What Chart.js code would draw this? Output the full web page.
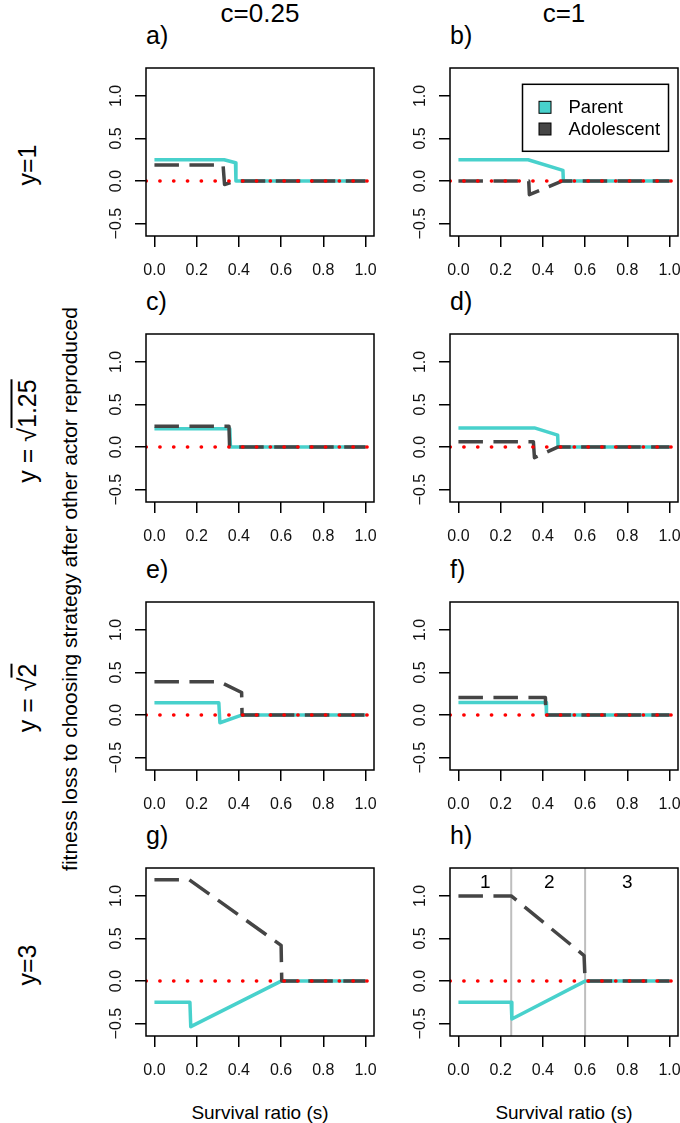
<!DOCTYPE html>
<html>
<head>
<meta charset="utf-8">
<script src="https://cdn.jsdelivr.net/npm/chart.js@4.4.1/dist/chart.umd.min.js"></script>
<style>
  body { margin: 0; width: 680px; height: 1123px; position: relative; overflow: hidden; background: #fff;
         font-family: "Liberation Sans", Arial, sans-serif; color: #000; }
  canvas { position: absolute; }
  .txt { position: absolute; white-space: nowrap; line-height: 1; transform: translate(-50%, -50%); }
  .rot { transform: translate(-50%, -50%) rotate(-90deg); }
  .lbl { position: absolute; white-space: nowrap; line-height: 1; transform: translateY(-50%); }
  .ov { text-decoration: overline; text-decoration-thickness: 1.5px; }
</style>
</head>
<body>
<script>
// axis settings
const X_TICKS = [0, 0.2, 0.4, 0.6, 0.8, 1.0];
const Y_TICKS = [-0.5, 0, 0.5, 1.0];
const X_RANGE = [-0.04, 1.04];
const Y_RANGE = [-0.645, 1.328];

const SERIES_NAMES = ["Parent", "Adolescent"];
const COL_TITLES = ["c=0.25", "c=1"];
const PANEL_LABELS = ["a)", "b)", "c)", "d)", "e)", "f)", "g)", "h)"];
const X_TITLE = "Survival ratio (s)";
const Y_TITLE = "fitness loss to choosing strategy after other actor reproduced";

// [s, fitness loss]
const PARENT_A = [[0, 0.25], [0.33, 0.25], [0.384, 0.215], [0.386, 0], [1, 0]];
const ADOL_A   = [[0, 0.19], [0.325, 0.19], [0.332, -0.04], [0.385, 0], [1, 0]];
const PARENT_B = [[0, 0.25], [0.33, 0.25], [0.495, 0.125], [0.497, 0], [1, 0]];
const ADOL_B   = [[0, 0], [0.333, 0], [0.336, -0.16], [0.49, 0], [1, 0]];
const PARENT_C = [[0, 0.215], [0.357, 0.215], [0.36, 0], [1, 0]];
const ADOL_C   = [[0, 0.245], [0.353, 0.245], [0.356, 0], [1, 0]];
const PARENT_D = [[0, 0.225], [0.36, 0.225], [0.47, 0.14], [0.472, 0], [1, 0]];
const ADOL_D   = [[0, 0.063], [0.355, 0.063], [0.36, -0.125], [0.47, 0], [1, 0]];
const PARENT_E = [[0, 0.145], [0.305, 0.145], [0.31, -0.09], [0.413, 0], [1, 0]];
const ADOL_E   = [[0, 0.39], [0.31, 0.39], [0.413, 0.265], [0.415, 0], [1, 0]];
const PARENT_F = [[0, 0.147], [0.415, 0.147], [0.417, 0], [1, 0]];
const ADOL_F   = [[0, 0.205], [0.412, 0.205], [0.414, 0], [1, 0]];
const PARENT_G = [[0, -0.25], [0.168, -0.25], [0.172, -0.535], [0.6, 0], [1, 0]];
const ADOL_G   = [[0, 1.19], [0.165, 1.19], [0.6, 0.42], [0.603, 0], [1, 0]];
const PARENT_H = [[0, -0.25], [0.25, -0.25], [0.253, -0.445], [0.6, 0], [1, 0]];
const ADOL_H   = [[0, 1.0], [0.25, 1.0], [0.595, 0.3], [0.6, 0], [1, 0]];

const PARENTS = [PARENT_A, PARENT_B, PARENT_C, PARENT_D, PARENT_E, PARENT_F, PARENT_G, PARENT_H];
const ADOLS = [ADOL_A, ADOL_B, ADOL_C, ADOL_D, ADOL_E, ADOL_F, ADOL_G, ADOL_H];

// region markers in panel h
const REGION_BOUNDS = [0.25, 0.6];
const REGION_NAMES = ["1", "2", "3"];
const REGION_NAME_X = [0.127, 0.43, 0.8];
const REGION_NAME_Y = 1.15;

const ROW_LABELS = ["y=1", 'y = √<span class="ov">1.25</span>', 'y = √<span class="ov">2</span>', "y=3"];

const PARENT_COLOR = "#48D1CC";
const ADOL_COLOR = "#454545";
const ZERO_COLOR = "#ff0000";
const FONT = "'Liberation Sans', Arial, sans-serif";

// layout (px)
const BOX_LEFT = [146, 450];
const BOX_TOP = [68, 334, 601.5, 868];
const BOX_W = 228;
const BOX_H = 168;
const AXIS_W = 55;
const AXIS_H = 45;
const PAD = 8;

function addText(html, x, y, size, cls) {
  const d = document.createElement("div");
  d.className = cls || "txt";
  d.innerHTML = html;
  d.style.left = x + "px";
  d.style.top = y + "px";
  d.style.fontSize = size + "px";
  document.body.appendChild(d);
}

const framePlugin = {
  id: "frame",
  afterDraw(chart) {
    const { ctx, chartArea: a } = chart;
    ctx.save();
    ctx.strokeStyle = "#000";
    ctx.lineWidth = 1.5;
    ctx.strokeRect(a.left, a.top, a.right - a.left, a.bottom - a.top);
    ctx.restore();
  },
};

const legendPlugin = {
  id: "rlegend",
  afterDraw(chart) {
    const { ctx, chartArea: a } = chart;
    const w = 146, h = 67;
    const left = a.right - 9.5 - w, top = a.top + 16.3;
    ctx.save();
    ctx.fillStyle = "#fff";
    ctx.fillRect(left, top, w, h);
    ctx.strokeStyle = "#000";
    ctx.lineWidth = 1.5;
    ctx.strokeRect(left, top, w, h);
    ctx.font = "18.5px " + FONT;
    ctx.textBaseline = "middle";
    chart.data.datasets.slice(0, 2).forEach((ds, i) => {
      const cy = top + 23 + i * 21.7;
      ctx.fillStyle = ds.borderColor;
      ctx.fillRect(left + 16.5, cy - 6, 12, 12);
      ctx.lineWidth = 1;
      ctx.strokeRect(left + 16.5, cy - 6, 12, 12);
      ctx.fillStyle = "#000";
      ctx.fillText(ds.label, left + 46, cy + 1);
    });
    ctx.restore();
  },
};

const regionPlugin = {
  id: "regions",
  beforeDatasetsDraw(chart) {
    const { ctx, chartArea: a, scales } = chart;
    ctx.save();
    ctx.strokeStyle = "#bebebe";
    ctx.lineWidth = 2;
    REGION_BOUNDS.forEach((b) => {
      const px = scales.x.getPixelForValue(b);
      ctx.beginPath();
      ctx.moveTo(px, a.top);
      ctx.lineTo(px, a.bottom);
      ctx.stroke();
    });
    ctx.fillStyle = "#000";
    ctx.font = "19px " + FONT;
    ctx.textAlign = "center";
    ctx.textBaseline = "middle";
    REGION_NAMES.forEach((n, i) => {
      ctx.fillText(n, scales.x.getPixelForValue(REGION_NAME_X[i]), scales.y.getPixelForValue(REGION_NAME_Y));
    });
    ctx.restore();
  },
};

const toPoints = (arr) => arr.map(([x, y]) => ({ x, y }));
const fmt = (v) => v.toFixed(1).replace("-", "\u2212");

function makeChart(i) {
  const col = i % 2;
  const row = Math.floor(i / 2);
  const canvas = document.createElement("canvas");
  canvas.width = AXIS_W + BOX_W + PAD;
  canvas.height = PAD + BOX_H + AXIS_H;
  canvas.style.left = BOX_LEFT[col] - AXIS_W + "px";
  canvas.style.top = BOX_TOP[row] - PAD + "px";
  document.body.appendChild(canvas);

  const plugins = [framePlugin];
  if (i === 1) plugins.push(legendPlugin);
  if (i === 7) plugins.push(regionPlugin);

  new Chart(canvas, {
    type: "line",
    data: {
      datasets: [
        { label: SERIES_NAMES[0], data: toPoints(PARENTS[i]), borderColor: PARENT_COLOR, backgroundColor: PARENT_COLOR,
          borderWidth: 3.5, borderJoinStyle: "round", pointRadius: 0, tension: 0, order: 3 },
        { label: SERIES_NAMES[1], data: toPoints(ADOLS[i]), borderColor: ADOL_COLOR, backgroundColor: ADOL_COLOR,
          borderWidth: 3.5, borderDash: [24.5, 10.5], borderJoinStyle: "round", pointRadius: 0, tension: 0, order: 2 },
        { label: "zero", data: X_RANGE.map((x) => ({ x, y: 0 })), borderColor: ZERO_COLOR,
          borderWidth: 3.5, borderDash: [0.3, 13.5], borderCapStyle: "round", pointRadius: 0, order: 1 },
      ],
    },
    options: {
      responsive: false,
      animation: false,
      events: [],
      layout: { padding: { top: PAD, right: PAD, left: 0, bottom: 0 } },
      plugins: { legend: { display: false }, tooltip: { enabled: false } },
      scales: {
        x: {
          type: "linear",
          min: X_RANGE[0],
          max: X_RANGE[1],
          afterBuildTicks: (s) => { s.ticks = X_TICKS.map((v) => ({ value: v })); },
          afterFit: (s) => { s.height = AXIS_H; s.paddingLeft = 0; s.paddingRight = 0; },
          grid: { drawOnChartArea: false, drawTicks: true, tickLength: 11, color: "#000", lineWidth: 1.5 },
          border: { display: false },
          ticks: { padding: 13.5, color: "#111", autoSkip: false, maxRotation: 0,
                   font: { family: FONT, size: 16 }, callback: (v) => fmt(v) },
        },
        y: {
          type: "linear",
          min: Y_RANGE[0],
          max: Y_RANGE[1],
          afterBuildTicks: (s) => { s.ticks = Y_TICKS.map((v) => ({ value: v })); },
          afterFit: (s) => { s.width = AXIS_W; s.paddingTop = 0; s.paddingBottom = 0; },
          grid: { drawOnChartArea: false, drawTicks: true, tickLength: 11, color: "#000", lineWidth: 1.5 },
          border: { display: false },
          ticks: { padding: 3, color: "#111", autoSkip: false, minRotation: 90, maxRotation: 90,
                   crossAlign: "center", font: { family: FONT, size: 16 }, callback: (v) => fmt(v) },
        },
      },
    },
    plugins,
  });
}

for (let i = 0; i < 8; i++) makeChart(i);

// titles and labels
COL_TITLES.forEach((t, c) => addText(t, BOX_LEFT[c] + BOX_W / 2, 12.5, 26));
PANEL_LABELS.forEach((t, i) => addText(t, BOX_LEFT[i % 2], BOX_TOP[Math.floor(i / 2)] - 33, 25, "lbl"));
ROW_LABELS.forEach((t, r) => addText(t, 27, BOX_TOP[r] + BOX_H / 2 + 12.5, 25, "txt rot"));
addText(Y_TITLE, 69, 589, 21, "txt rot");
COL_TITLES.forEach((_, c) => addText(X_TITLE, BOX_LEFT[c] + BOX_W / 2, 1112, 19));
</script>
</body>
</html>
